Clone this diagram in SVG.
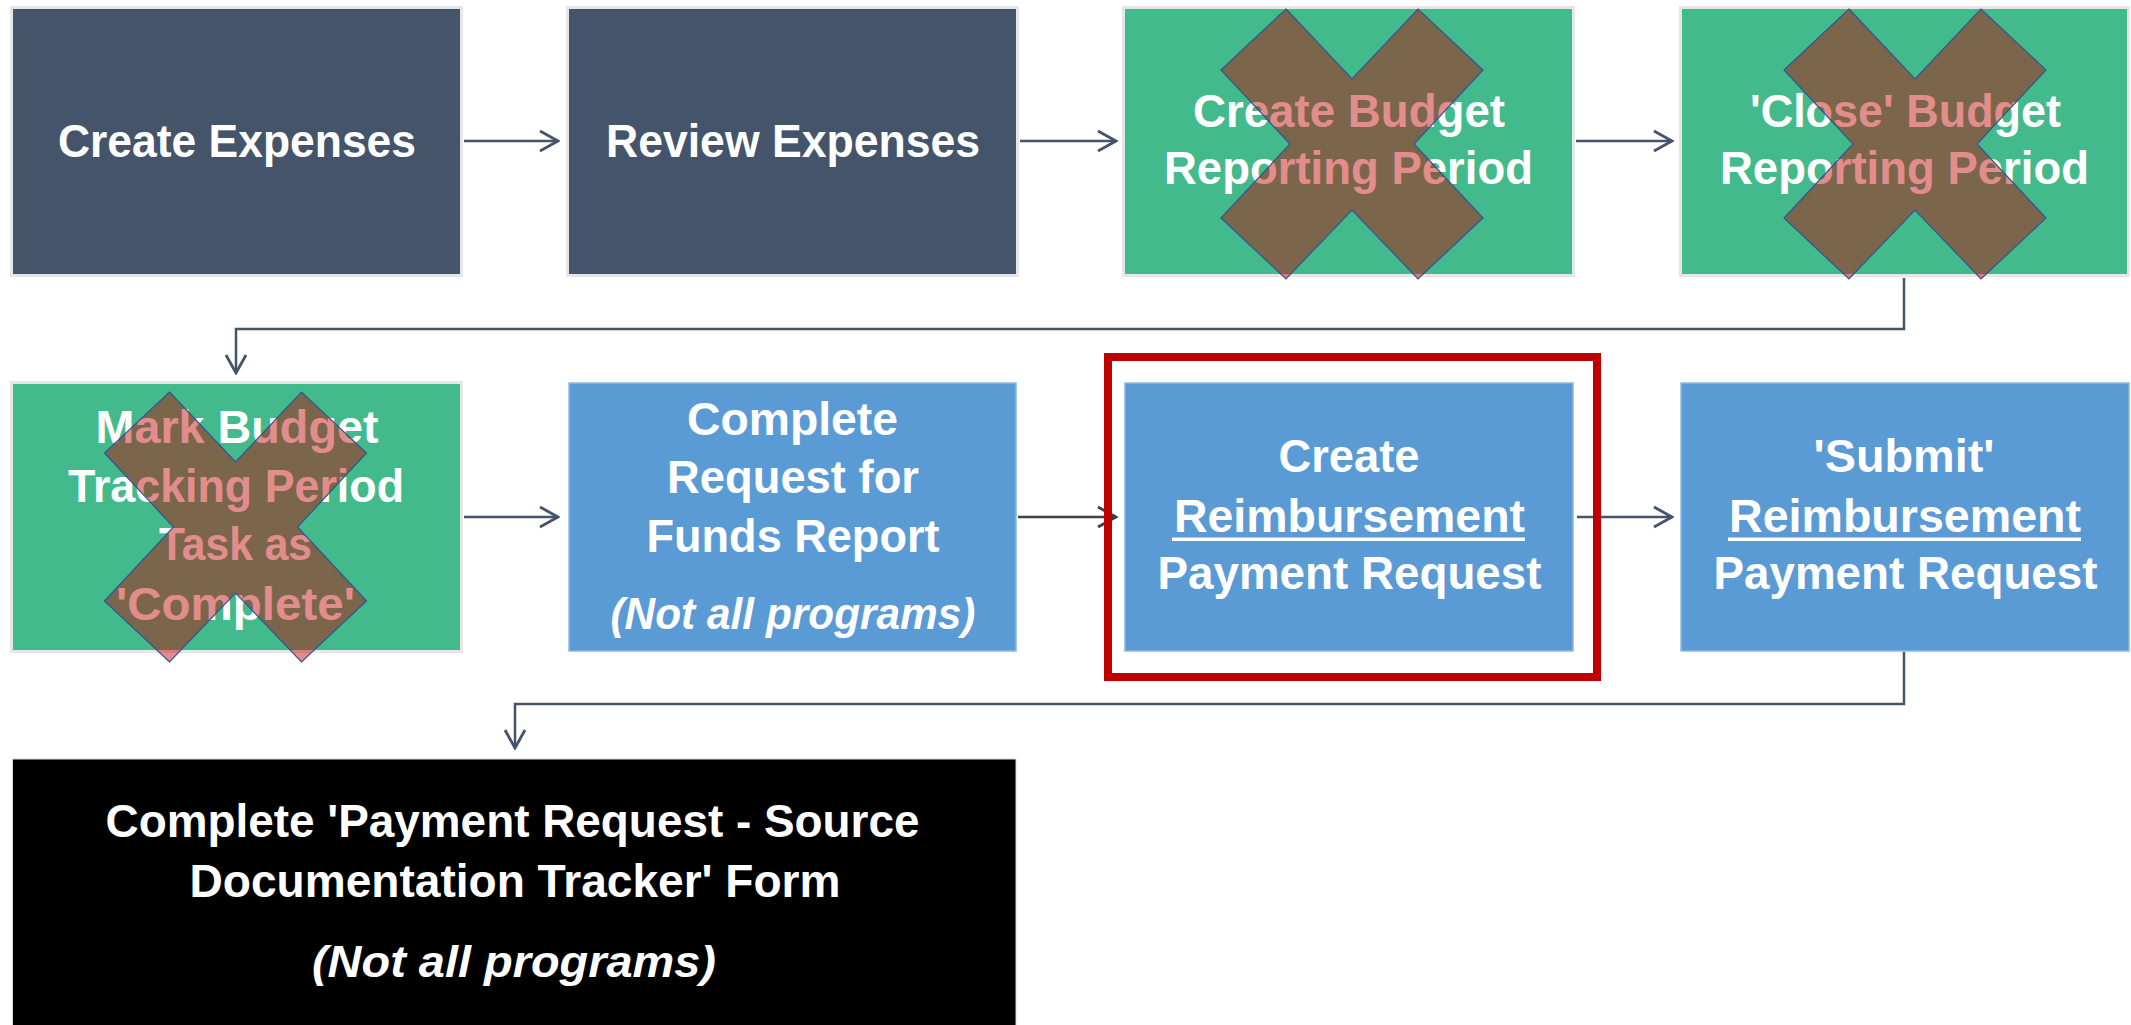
<svg xmlns="http://www.w3.org/2000/svg" xmlns:xlink="http://www.w3.org/1999/xlink" width="2131" height="1025" viewBox="0 0 2131 1025">
<style>
.dark{fill:#44546A;stroke:#E7E6E6;stroke-width:3}
.green{fill:#43BA8B;stroke:#E7E6E6;stroke-width:3}
.blue{fill:#5B9BD5;stroke:#8DB8E2;stroke-width:1.5}
.black{fill:#000000;stroke:#D9D9D9;stroke-width:1}
.t{font-family:"Liberation Sans",Arial,sans-serif;font-weight:bold;font-size:47px;fill:#FFFFFF;text-anchor:middle}
.i{font-style:italic;font-size:45px}
.ul{fill:#FFFFFF}
.conn{fill:none;stroke:#44546A;stroke-width:2.5}
.xmark{fill:#C00000;fill-opacity:0.45;stroke:#2F5597;stroke-width:1.2}
</style>
<defs>
<marker id="arr" markerUnits="userSpaceOnUse" viewBox="0 0 22 24" refX="20" refY="12" markerWidth="22" markerHeight="24" orient="auto">
<path d="M2,2 L20,12 L2,22" fill="none" stroke="#44546A" stroke-width="2.8"/>
</marker>
<marker id="arrK" markerUnits="userSpaceOnUse" viewBox="0 0 22 24" refX="20" refY="12" markerWidth="22" markerHeight="24" orient="auto">
<path d="M2,2 L20,12 L2,22" fill="none" stroke="#404040" stroke-width="2.8"/>
</marker>
<polygon id="xshape" points="-66,-135 0,-65 66,-135 131,-74 62,0 131,74 66,135 0,66 -66,135 -131,74 -62,0 -131,-74"/>
</defs>
<rect width="2131" height="1025" fill="#FFFFFF"/>

<g id="node-create-expenses">
<rect class="dark" x="11.5" y="7.5" width="450" height="268"/>
<text class="t" x="237" y="157" textLength="358" lengthAdjust="spacingAndGlyphs">Create Expenses</text>
</g>

<g id="node-review-expenses">
<rect class="dark" x="567.5" y="7.5" width="450" height="268"/>
<text class="t" x="793" y="157" textLength="374" lengthAdjust="spacingAndGlyphs">Review Expenses</text>
</g>

<g id="node-create-budget">
<rect class="green" x="1123.5" y="7.5" width="450" height="268"/>
<text class="t" x="1349" y="127" textLength="312" lengthAdjust="spacingAndGlyphs">Create Budget</text>
<text class="t" x="1348.5" y="184" textLength="369" lengthAdjust="spacingAndGlyphs">Reporting Period</text>
<use xlink:href="#xshape" href="#xshape" class="xmark" transform="translate(1352,144)"/>
</g>

<g id="node-close-budget">
<rect class="green" x="1680.5" y="7.5" width="448" height="268"/>
<text class="t" x="1905.5" y="127" textLength="311" lengthAdjust="spacingAndGlyphs">'Close' Budget</text>
<text class="t" x="1904.5" y="184" textLength="369" lengthAdjust="spacingAndGlyphs">Reporting Period</text>
<use xlink:href="#xshape" href="#xshape" class="xmark" transform="translate(1915,144)"/>
</g>

<g id="node-mark-budget">
<rect class="green" x="11.5" y="382.5" width="450" height="269"/>
<text class="t" x="237" y="443" textLength="283" lengthAdjust="spacingAndGlyphs">Mark Budget</text>
<text class="t" x="236" y="502" textLength="336" lengthAdjust="spacingAndGlyphs">Tracking Period</text>
<text class="t" x="235.5" y="560" textLength="153" lengthAdjust="spacingAndGlyphs">Task as</text>
<text class="t" x="235.5" y="620" textLength="239" lengthAdjust="spacingAndGlyphs">'Complete'</text>
<use xlink:href="#xshape" href="#xshape" class="xmark" transform="translate(235.5,527)"/>
</g>

<g id="node-request-funds">
<rect class="blue" x="569" y="383" width="447" height="268"/>
<text class="t" x="792.5" y="435" textLength="211" lengthAdjust="spacingAndGlyphs">Complete</text>
<text class="t" x="793" y="493" textLength="252" lengthAdjust="spacingAndGlyphs">Request for</text>
<text class="t" x="793" y="552" textLength="293" lengthAdjust="spacingAndGlyphs">Funds Report</text>
<text class="t i" x="793" y="629" textLength="365" lengthAdjust="spacingAndGlyphs">(Not all programs)</text>
</g>

<g id="node-create-reimbursement">
<rect class="blue" x="1125" y="383" width="448" height="268"/>
<text class="t" x="1349" y="472" textLength="141" lengthAdjust="spacingAndGlyphs">Create</text>
<text class="t" x="1349.5" y="532" textLength="351" lengthAdjust="spacingAndGlyphs">Reimbursement</text>
<rect class="ul" x="1172" y="537.5" width="353" height="3.5"/>
<text class="t" x="1349.5" y="589" textLength="384" lengthAdjust="spacingAndGlyphs">Payment Request</text>
</g>

<g id="node-submit-reimbursement">
<rect class="blue" x="1681" y="383" width="448" height="268"/>
<text class="t" x="1904" y="472" textLength="181" lengthAdjust="spacingAndGlyphs">'Submit'</text>
<text class="t" x="1905" y="532" textLength="352" lengthAdjust="spacingAndGlyphs">Reimbursement</text>
<rect class="ul" x="1728" y="537.5" width="353" height="3.5"/>
<text class="t" x="1905.5" y="589" textLength="384" lengthAdjust="spacingAndGlyphs">Payment Request</text>
</g>

<g id="node-source-tracker">
<rect class="black" x="12.5" y="759" width="1003.5" height="270"/>
<text class="t" x="512.5" y="837" textLength="814" lengthAdjust="spacingAndGlyphs">Complete 'Payment Request - Source</text>
<text class="t" x="515" y="897" textLength="651" lengthAdjust="spacingAndGlyphs">Documentation Tracker' Form</text>
<text class="t i" x="514" y="977" textLength="404" lengthAdjust="spacingAndGlyphs">(Not all programs)</text>
</g>

<g id="connectors">
<path class="conn" d="M464,141 H558" marker-end="url(#arr)"/>
<path class="conn" d="M1020,141 H1116" marker-end="url(#arr)"/>
<path class="conn" d="M1576,141 H1672" marker-end="url(#arr)"/>
<path class="conn" d="M1904,278 V329 H236 V373" marker-end="url(#arr)"/>
<path class="conn" d="M464,517 H558" marker-end="url(#arr)"/>
<path class="conn" d="M1018,517 H1116" style="stroke:#404040" marker-end="url(#arrK)"/>
<path class="conn" d="M1577,517 H1672" marker-end="url(#arr)"/>
<path class="conn" d="M1904,652 V704 H515 V748" marker-end="url(#arr)"/>
</g>

<g id="highlight-frame">
<rect x="1108" y="357" width="489" height="320" fill="none" stroke="#C00000" stroke-width="8"/>
</g>
</svg>
